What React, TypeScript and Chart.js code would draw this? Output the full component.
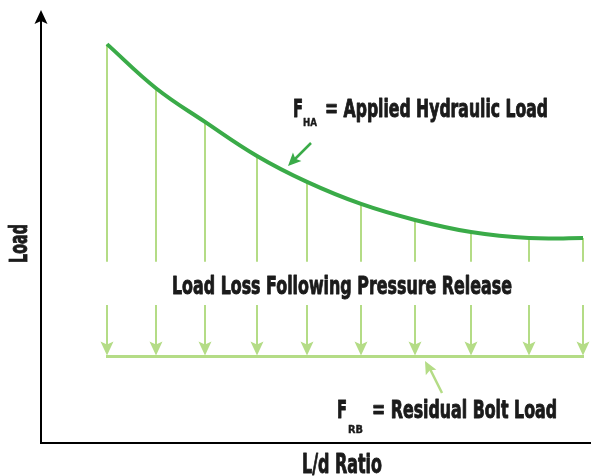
import React, { useEffect, useRef } from "react";
import { Chart, registerables } from "chart.js";

Chart.register(...registerables);

// L/d ratio positions of the load lines (arbitrary units)
const ldRatio = [13.2, 23, 32.8, 43.2, 53.2, 64, 74.8, 86, 97.6, 108.4];
// Applied hydraulic load (F_HA) at each position
const appliedHydraulicLoad = [92.1, 81.9, 74.1, 66.2, 60.2, 55.1, 51.4, 48.6, 47.2, 47.2];
// Residual bolt load level (F_RB)
const residualBoltLoad = 20;
// The band of load loss following pressure release
const lossBandTop = 41.7;
const lossBandBottom = 31.7;

const xLabel = "L/d Ratio";
const yLabel = "Load";
const lossLabel = "Load Loss Following Pressure Release";
const haLabel = ["F", "HA", "= Applied Hydraulic Load"];
const rbLabel = ["F", "RB", "= Residual Bolt Load"];

const DARK = "#3aab48";
const LIGHT = "#b4dc86";
const INK = "#1b1b1b";
const FONT = "'Liberation Sans Narrow', 'DejaVu Sans Condensed', 'Liberation Sans', sans-serif";

function fitText(ctx: CanvasRenderingContext2D, text: string, left: number, baseline: number, width: number, size: number) {
  ctx.save();
  ctx.font = `bold ${size}px ${FONT}`;
  ctx.textAlign = "left";
  ctx.textBaseline = "alphabetic";
  const w = ctx.measureText(text).width;
  ctx.translate(left, baseline);
  ctx.scale(width / w, 1);
  ctx.fillStyle = INK;
  ctx.strokeStyle = INK;
  ctx.lineWidth = size > 14 ? 0.9 : 0.4;
  ctx.lineJoin = "round";
  ctx.fillText(text, 0, 0);
  ctx.strokeText(text, 0, 0);
  ctx.restore();
}

function arrowHead(ctx: CanvasRenderingContext2D, tx: number, ty: number, fx: number, fy: number, len: number, half: number, color: string) {
  const ang = Math.atan2(ty - fy, tx - fx);
  const c = Math.cos(ang), s = Math.sin(ang);
  const bx = tx - c * len, by = ty - s * len;
  const nx = tx - c * len * 0.8, ny = ty - s * len * 0.8;
  ctx.beginPath();
  ctx.moveTo(tx, ty);
  ctx.lineTo(bx - s * half, by + c * half);
  ctx.lineTo(nx, ny);
  ctx.lineTo(bx + s * half, by - c * half);
  ctx.closePath();
  ctx.fillStyle = color;
  ctx.fill();
}

const diagramPlugin = {
  id: "diagram",
  beforeDatasetsDraw(chart: any) {
    const ctx: CanvasRenderingContext2D = chart.ctx;
    const xs = chart.scales.x, ys = chart.scales.y;
    ctx.save();
    ctx.strokeStyle = LIGHT;
    ctx.lineWidth = 2;
    const yTop = ys.getPixelForValue(lossBandTop);
    const yBot = ys.getPixelForValue(lossBandBottom);
    const yRes = ys.getPixelForValue(residualBoltLoad);
    ldRatio.forEach((v, i) => {
      const px = Math.round(xs.getPixelForValue(v));
      ctx.beginPath();
      ctx.moveTo(px, ys.getPixelForValue(appliedHydraulicLoad[i]));
      ctx.lineTo(px, yTop);
      ctx.stroke();
      ctx.beginPath();
      ctx.moveTo(px, yBot);
      ctx.lineTo(px, yRes - 8);
      ctx.stroke();
      arrowHead(ctx, px, yRes, px, yBot, 14, 6.5, LIGHT);
    });
    ctx.lineWidth = 3;
    ctx.beginPath();
    ctx.moveTo(xs.getPixelForValue(ldRatio[0]) - 1, yRes + 1);
    ctx.lineTo(xs.getPixelForValue(ldRatio[ldRatio.length - 1]) + 1, yRes + 1);
    ctx.stroke();
    ctx.restore();
  },
  afterDatasetsDraw(chart: any) {
    const ctx: CanvasRenderingContext2D = chart.ctx;
    const a = chart.chartArea;
    ctx.save();
    // axes
    ctx.strokeStyle = "#000";
    ctx.lineWidth = 2;
    ctx.beginPath();
    ctx.moveTo(a.left, a.bottom + 1);
    ctx.lineTo(a.left, a.top + 10);
    ctx.moveTo(a.left - 1, a.bottom + 1);
    ctx.lineTo(chart.width, a.bottom + 1);
    ctx.stroke();
    ctx.beginPath();
    ctx.moveTo(a.left, a.top);
    ctx.lineTo(a.left + 6.5, a.top + 14);
    ctx.lineTo(a.left, a.top + 11);
    ctx.lineTo(a.left - 6.5, a.top + 14);
    ctx.closePath();
    ctx.fillStyle = "#000";
    ctx.fill();

    // axis titles
    fitText(ctx, xLabel, 302, 473, 80, 26);
    ctx.save();
    ctx.translate(27, 263);
    ctx.rotate(-Math.PI / 2);
    fitText(ctx, yLabel, 0, 0, 39, 25);
    ctx.restore();

    // labels
    fitText(ctx, lossLabel, 172, 294, 340, 25);
    fitText(ctx, haLabel[0], 293, 117, 10, 24);
    fitText(ctx, haLabel[1], 303, 126, 14, 11);
    fitText(ctx, haLabel[2], 325, 117, 223, 24);
    fitText(ctx, rbLabel[0], 337, 418, 10, 24);
    fitText(ctx, rbLabel[1], 348, 433, 15, 11);
    fitText(ctx, rbLabel[2], 372, 418, 185, 24);

    // pointer arrows
    ctx.strokeStyle = DARK;
    ctx.lineWidth = 2.5;
    ctx.beginPath();
    ctx.moveTo(311, 143);
    ctx.lineTo(294, 160);
    ctx.stroke();
    arrowHead(ctx, 288, 166, 311, 143, 13, 6, DARK);

    ctx.strokeStyle = LIGHT;
    ctx.beginPath();
    ctx.moveTo(442, 393);
    ctx.lineTo(430, 369);
    ctx.stroke();
    arrowHead(ctx, 425, 361, 442, 393, 13, 6, LIGHT);
    ctx.restore();
  },
};

export default function App() {
  const ref = useRef<HTMLCanvasElement | null>(null);
  useEffect(() => {
    if (!ref.current) return;
    const chart = new Chart(ref.current, {
      type: "line",
      data: {
        datasets: [
          {
            label: "Applied Hydraulic Load",
            data: ldRatio.map((x, i) => ({ x, y: appliedHydraulicLoad[i] })),
            borderColor: DARK,
            borderWidth: 4,
            pointRadius: 0,
            tension: 0.4,
            fill: false,
          },
        ],
      },
      options: {
        animation: false,
        responsive: false,
        devicePixelRatio: 1,
        layout: { padding: { left: 41, right: 0, top: 10, bottom: 34 } },
        plugins: { legend: { display: false }, tooltip: { enabled: false } },
        scales: {
          x: { type: "linear", min: 0, max: 110, display: false },
          y: { type: "linear", min: 0, max: 100, display: false },
        },
      },
      plugins: [diagramPlugin],
    } as any);
    return () => chart.destroy();
  }, []);
  return (
    <div style={{ position: "fixed", left: 0, top: 0, width: 591, height: 476, background: "#fff" }}>
      <canvas ref={ref} width={591} height={476} style={{ display: "block" }} />
    </div>
  );
}
